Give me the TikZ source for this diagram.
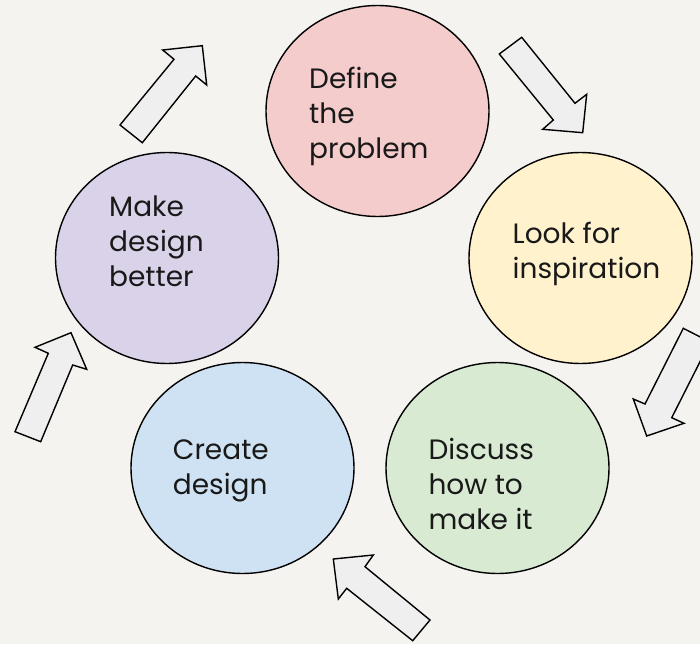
\documentclass[tikz,border=0pt]{standalone}
\usepackage{fontspec}
\setmainfont{Poppins}
\usetikzlibrary{shapes.geometric}
\definecolor{bg}{HTML}{F5F3EF}
\definecolor{cpink}{HTML}{F4CCCC}
\definecolor{cyellow}{HTML}{FFF2CC}
\definecolor{cgreen}{HTML}{D9EAD3}
\definecolor{cblue}{HTML}{CFE2F3}
\definecolor{cpurple}{HTML}{D9D2E9}
\definecolor{arrowfill}{HTML}{EFEFEF}
\tikzset{
  stagecircle/.style={ellipse, draw=black, line width=1.4pt, inner sep=0pt, minimum width=223pt, minimum height=211pt},
  stagetext/.style={anchor=base west, align=left, inner sep=0pt, font=\fontsize{28}{35}\selectfont, text=black!90},
  blockarrow/.style={draw=black, fill=arrowfill, line width=1.4pt, line join=miter}
}
\begin{document}
\begin{tikzpicture}[x=1pt,y=-1pt]
\fill[bg] (0,0) rectangle (700,644);
\useasboundingbox (0,0) rectangle (700,644);
% circles
\node[stagecircle, fill=cpink] (define) at (377.5,111) {};
\node[stagecircle, fill=cyellow] (look) at (580.5,258) {};
\node[stagecircle, fill=cgreen] (discuss) at (497.5,468) {};
\node[stagecircle, fill=cblue] (create) at (242.5,468) {};
\node[stagecircle, fill=cpurple] (make) at (167,258) {};
% texts (anchor = baseline of the last line)
\node[stagetext] (tdefine) at (309,158.3) {Define\\the\\problem};
\node[stagetext] (tlook) at (512.5,278.3) {Look for\\inspiration};
\node[stagetext] (tdiscuss) at (428.3,529.3) {Discuss\\how to\\make it};
\node[stagetext] (tcreate) at (172.7,494) {Create\\design};
\node[stagetext] (tmake) at (109,286.7) {Make\\design\\better};
% block arrows
\draw[blockarrow] (120,125) -- (174,59.3) -- (162.7,50) -- (202.3,45.7) -- (206.7,85) -- (195.7,76) -- (142.3,142.7) -- cycle;
\draw[blockarrow] (499.3,54) -- (521.7,37.3) -- (575,103.3) -- (586.7,94.3) -- (582.7,132.7) -- (542.7,129.3) -- (553.3,120) -- cycle;
\draw[blockarrow] (683.3,328.3) -- (645,404) -- (633.3,399) -- (646.7,436) -- (684,423.3) -- (671.7,417.7) -- (710,342) -- cycle;
\draw[blockarrow] (430,620) -- (365,566.7) -- (373.3,555) -- (333.3,559) -- (338.3,599) -- (346.7,588.3) -- (412.7,640.7) -- cycle;
\draw[blockarrow] (15,431.7) -- (48.3,353.3) -- (35,347.3) -- (71,332.7) -- (86.7,369.3) -- (72.7,365) -- (40.7,441.7) -- cycle;
\end{tikzpicture}
\end{document}
